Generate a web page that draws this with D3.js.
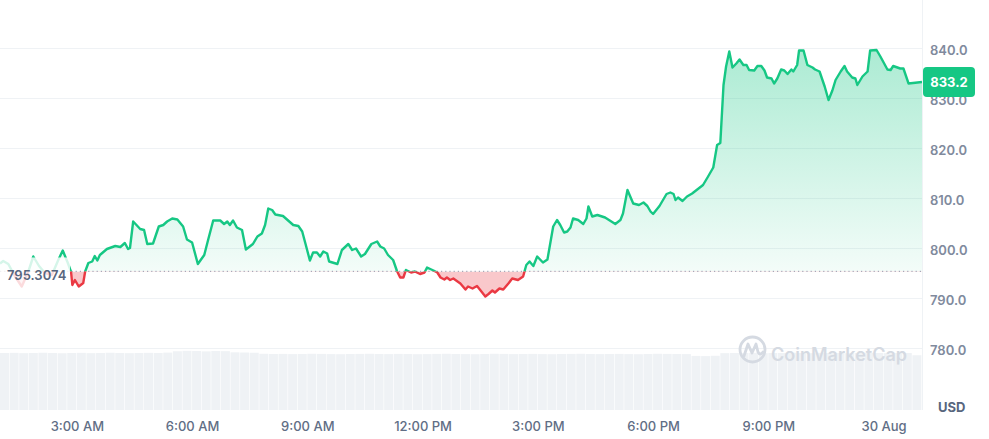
<!DOCTYPE html>
<html>
<head>
<meta charset="utf-8">
<script src="https://cdn.jsdelivr.net/npm/d3@7/dist/d3.min.js"></script>
<style>
  body { margin: 0; background: #fff; }
  text { font-family: Inter, "Noto Sans", sans-serif; }
</style>
</head>
<body>
<div id="chart"></div>
<script>
// price data, minutes after 29 Aug 1:00 AM
var times = [0, 5, 13, 23, 34, 44, 52, 61, 70, 81, 91, 98, 106, 111, 113, 117, 123, 130, 133, 138,
  144, 148, 152, 156, 167, 180, 188, 195, 200, 203, 208, 219, 225, 230, 239, 248, 255, 261, 269, 277,
  286, 292, 300, 309, 319, 325, 333, 344, 350, 355, 359, 364, 370, 378, 384, 395, 402, 409, 414, 419,
  425, 430, 442, 458, 466, 472, 477, 484, 489, 495, 500, 505, 511, 514, 527, 534, 544, 550, 556, 564,
  570, 580, 589, 594, 600, 606, 614, 620, 625, 630, 634, 642, 648, 656, 663, 667, 677, 683, 688, 694,
  698, 703, 708, 719, 727, 731, 738, 745, 750, 758, 763, 769, 773, 780, 786, 794, 800, 809, 817, 822,
  827, 833, 839, 848, 855, 864, 870, 875, 881, 886, 891, 895, 903, 911, 916, 919, 925, 933, 945, 961,
  969, 973, 980, 989, 998, 1005, 1011, 1016, 1020, 1030, 1041, 1047, 1052, 1055, 1059, 1066, 1073, 1081, 1098, 1105,
  1114, 1120, 1125, 1130, 1134, 1139, 1144, 1150, 1155, 1161, 1166, 1170, 1178, 1183, 1189, 1194, 1198, 1205, 1209, 1214,
  1220, 1225, 1230, 1236, 1239, 1245, 1248, 1255, 1261, 1269, 1273, 1280, 1288, 1294, 1300, 1305, 1313, 1319, 1323, 1331,
  1336, 1339, 1347, 1355, 1359, 1369, 1375, 1386, 1391, 1395, 1406, 1411, 1419, 1440];

var prices = [796.9, 797.4, 796.8, 794.4, 792.3, 795.2, 798.3, 796.4, 795.0, 794.6, 797.6, 799.5, 797.0, 795.2, 792.6, 793.6, 792.3, 793.0, 795.3, 797.0,
  797.3, 798.4, 797.5, 798.6, 799.8, 800.4, 800.2, 801.0, 799.8, 800.0, 805.3, 803.8, 803.6, 800.8, 800.9, 804.3, 804.6, 805.3, 805.9, 805.7,
  804.3, 801.7, 801.1, 796.8, 798.6, 801.6, 805.5, 805.5, 804.8, 805.3, 804.6, 805.5, 804.1, 803.6, 799.7, 800.8, 802.3, 802.9, 804.6, 807.9,
  807.6, 806.7, 806.4, 804.6, 804.4, 803.3, 800.9, 797.5, 799.1, 799.1, 798.3, 799.3, 798.9, 797.3, 796.8, 799.6, 800.8, 799.6, 799.9, 798.3,
  798.8, 800.8, 801.3, 800.3, 799.9, 798.6, 797.6, 795.4, 794.1, 794.1, 795.6, 795.1, 795.3, 794.8, 795.1, 796.1, 795.5, 795.1, 794.1, 793.7,
  794.1, 793.6, 793.9, 792.9, 791.7, 792.3, 791.9, 792.4, 791.6, 790.3, 790.8, 791.5, 791.1, 791.9, 791.7, 792.9, 793.9, 793.6, 794.3, 796.6,
  797.3, 796.4, 798.3, 797.1, 797.7, 804.3, 805.6, 804.6, 803.1, 803.3, 804.1, 805.9, 805.6, 804.8, 805.9, 808.3, 806.3, 806.6, 806.1, 804.8,
  805.6, 806.9, 811.6, 808.9, 808.6, 809.1, 808.4, 807.3, 806.8, 808.4, 810.8, 811.1, 810.8, 809.6, 810.1, 809.4, 810.3, 810.9, 812.6, 814.1,
  816.1, 820.6, 821.0, 832.6, 836.3, 839.3, 836.1, 836.9, 837.7, 836.6, 836.6, 835.6, 835.5, 836.4, 836.4, 835.5, 834.1, 833.9, 832.9, 833.9,
  835.7, 835.5, 834.8, 835.7, 835.3, 836.6, 839.5, 839.5, 836.6, 836.1, 835.7, 835.3, 832.3, 829.6, 831.5, 833.6, 835.3, 836.4, 835.3, 834.1,
  833.9, 832.6, 834.3, 835.3, 839.5, 839.6, 838.3, 835.7, 835.6, 836.4, 835.9, 835.9, 832.9, 833.2];

// 24h volume, one value per 15 minutes
var volumes = [541, 543, 540, 542, 544, 541, 539, 542, 543, 540, 541, 544, 542, 540, 541, 543, 542, 545,
  558, 562, 560, 557, 561, 559,
  548, 546, 544,
  534, 532, 533, 531, 532, 534, 533, 531, 530, 532, 533, 534, 532, 531, 533,
  532, 530, 531, 533, 534, 532, 531, 530, 532, 534, 533, 531, 532, 533, 531,
  530, 532, 533, 534, 532, 531, 532, 533, 531, 530, 532, 534, 533, 532, 531,
  514, 512, 515,
  540, 542, 541, 543, 540, 541, 542, 544, 541, 540, 543, 542, 541, 540, 542, 543, 541, 540, 542, 541,
  520];

var openPrice = 795.3074;
var lastPrice = 833.2;
var yTicks = [780, 790, 800, 810, 820, 830, 840];
var xTickHours = [3, 6, 9, 12, 15, 18, 21, 24];
var xTickLabels = ["3:00 AM", "6:00 AM", "9:00 AM", "12:00 PM", "3:00 PM", "6:00 PM", "9:00 PM", "30 Aug"];

var svgWidth = 989;
var svgHeight = 439;
var plotRight = 922;
var volBottom = 410;

var start = new Date(2023, 7, 29, 1, 0);
function toDate(m) { return new Date(start.getTime() + m * 60000); }

var svg = d3.select("#chart")
  .append("svg")
  .attr("width", svgWidth)
  .attr("height", svgHeight);

var x = d3.scaleTime()
  .domain([start, toDate(1440)])
  .range([0, plotRight]);

var y = d3.scaleLinear()
  .domain([780, 840])
  .range([348, 48]);

var yVol = d3.scaleLinear()
  .domain([0, 665])
  .range([volBottom, volBottom - 70]);

var baseY = y(openPrice);

var data = times.map(function(t, i) {
  return { date: toDate(t), price: prices[i] };
});

// gradient + clips
var defs = svg.append("defs");
var grad = defs.append("linearGradient")
  .attr("id", "greenFill")
  .attr("gradientUnits", "userSpaceOnUse")
  .attr("x1", 0).attr("x2", 0)
  .attr("y1", y(840)).attr("y2", baseY);
grad.append("stop").attr("offset", "0%").attr("stop-color", "#16c784").attr("stop-opacity", 0.36);
grad.append("stop").attr("offset", "100%").attr("stop-color", "#16c784").attr("stop-opacity", 0.05);

defs.append("clipPath").attr("id", "clipUp")
  .append("rect").attr("x", 0).attr("y", 0).attr("width", plotRight).attr("height", baseY);
defs.append("clipPath").attr("id", "clipDown")
  .append("rect").attr("x", 0).attr("y", baseY).attr("width", plotRight).attr("height", volBottom - baseY);

// gridlines
svg.append("g")
  .selectAll("line")
  .data(yTicks)
  .enter()
  .append("line")
  .attr("x1", 0)
  .attr("x2", plotRight)
  .attr("y1", function(d) { return y(d) + 0.5; })
  .attr("y2", function(d) { return y(d) + 0.5; })
  .attr("stroke", "#eff2f5")
  .attr("stroke-width", 1);

// volume bars
var barW = x(toDate(15)) - x(toDate(0));
svg.append("g")
  .selectAll("rect")
  .data(volumes)
  .enter()
  .append("rect")
  .attr("x", function(d, i) { return x(toDate(i * 15)); })
  .attr("y", function(d) { return yVol(d); })
  .attr("width", barW - 0.6)
  .attr("height", function(d) { return volBottom - yVol(d); })
  .attr("fill", "#eff2f5");

// watermark
var wm = svg.append("g").attr("fill", "none").attr("stroke", "#d5dae2");
wm.append("circle").attr("cx", 752.5).attr("cy", 349.5).attr("r", 12.5).attr("stroke-width", 2.8);
wm.append("path")
  .attr("d", "M744,356 L748,344 L752,353 L756,344 L758,352 Q760,356 763,352")
  .attr("stroke-width", 2.8)
  .attr("stroke-linejoin", "round")
  .attr("stroke-linecap", "round");
svg.append("text")
  .attr("x", 771)
  .attr("y", 361)
  .attr("font-size", 18)
  .attr("font-weight", 600)
  .attr("fill", "#d5dae2")
  .text("CoinMarketCap");

// open price baseline
svg.append("line")
  .attr("x1", 0)
  .attr("x2", plotRight)
  .attr("y1", baseY)
  .attr("y2", baseY)
  .attr("stroke", "#a6b0c3")
  .attr("stroke-width", 1.2)
  .attr("stroke-dasharray", "1.2,3");

var area = d3.area()
  .x(function(d) { return x(d.date); })
  .y0(baseY)
  .y1(function(d) { return y(d.price); });

var line = d3.line()
  .x(function(d) { return x(d.date); })
  .y(function(d) { return y(d.price); });

svg.append("path")
  .datum(data)
  .attr("clip-path", "url(#clipUp)")
  .attr("fill", "url(#greenFill)")
  .attr("d", area);

svg.append("path")
  .datum(data)
  .attr("clip-path", "url(#clipDown)")
  .attr("fill", "#ea3943")
  .attr("fill-opacity", 0.28)
  .attr("d", area);

svg.append("path")
  .datum(data)
  .attr("clip-path", "url(#clipUp)")
  .attr("fill", "none")
  .attr("stroke", "#16c784")
  .attr("stroke-width", 2.4)
  .attr("stroke-linejoin", "round")
  .attr("d", line);

svg.append("path")
  .datum(data)
  .attr("clip-path", "url(#clipDown)")
  .attr("fill", "none")
  .attr("stroke", "#ea3943")
  .attr("stroke-width", 2.4)
  .attr("stroke-linejoin", "round")
  .attr("d", line);

// open price label with faded backdrop
svg.append("rect")
  .attr("x", 0)
  .attr("y", baseY - 14)
  .attr("width", 70)
  .attr("height", 31)
  .attr("fill", "#fff")
  .attr("fill-opacity", 0.82);

svg.append("text")
  .attr("x", 7)
  .attr("y", baseY + 3.5)
  .attr("dy", "0.35em")
  .attr("font-size", 13)
  .attr("font-weight", 600)
  .attr("fill", "#58667e")
  .text(openPrice.toFixed(4));

// right axis
svg.append("line")
  .attr("x1", plotRight + 0.5)
  .attr("x2", plotRight + 0.5)
  .attr("y1", 0)
  .attr("y2", volBottom)
  .attr("stroke", "#eff2f5");

var rightAxis = d3.axisRight(y)
  .tickValues(yTicks)
  .tickSize(0)
  .tickPadding(8)
  .tickFormat(d3.format(".1f"));

var yAxisG = svg.append("g")
  .attr("transform", "translate(" + plotRight + ",2)")
  .call(rightAxis);
yAxisG.select(".domain").remove();
yAxisG.selectAll("text")
  .attr("font-family", "Inter, sans-serif")
  .attr("font-size", 13)
  .attr("font-weight", 600)
  .attr("fill", "#808a9d");

svg.append("text")
  .attr("x", 938)
  .attr("y", 407)
  .attr("dy", "0.35em")
  .attr("font-size", 13)
  .attr("font-weight", 700)
  .attr("fill", "#58667e")
  .text("USD");

// last price tag
svg.append("rect")
  .attr("x", plotRight + 1)
  .attr("y", y(lastPrice) - 15)
  .attr("width", 52)
  .attr("height", 30)
  .attr("rx", 4)
  .attr("fill", "#16c784");

svg.append("text")
  .attr("x", plotRight + 27)
  .attr("y", y(lastPrice))
  .attr("dy", "0.35em")
  .attr("text-anchor", "middle")
  .attr("font-size", 13)
  .attr("font-weight", 700)
  .attr("fill", "#fff")
  .text(lastPrice.toFixed(1));

// bottom axis
var bottomAxis = d3.axisBottom(x)
  .tickValues(xTickHours.map(function(h) { return toDate((h - 1) * 60); }))
  .tickSize(0)
  .tickPadding(12)
  .tickFormat(function(d, i) { return xTickLabels[i]; });

var xAxisG = svg.append("g")
  .attr("transform", "translate(0," + volBottom + ")")
  .call(bottomAxis);
xAxisG.select(".domain").remove();
xAxisG.selectAll("text")
  .attr("font-family", "Inter, sans-serif")
  .attr("font-size", 13)
  .attr("font-weight", 500)
  .attr("fill", "#616e85");
</script>
</body>
</html>
